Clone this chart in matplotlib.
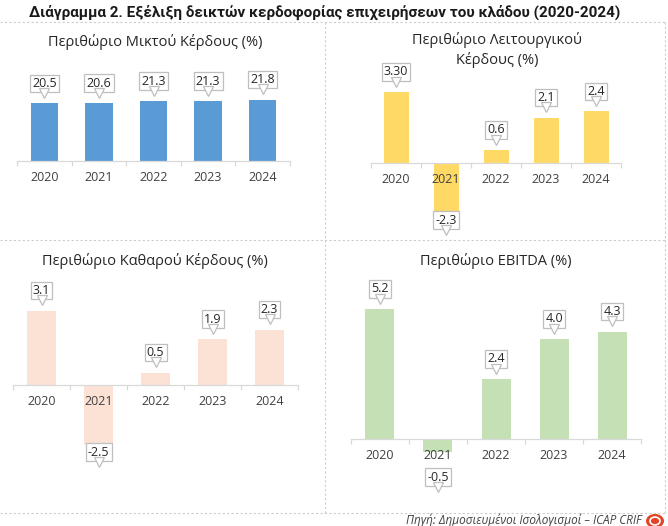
import matplotlib
matplotlib.use("Agg")
import matplotlib.pyplot as plt
import matplotlib.transforms as mtransforms
from matplotlib.patches import Circle
from matplotlib.lines import Line2D

plt.rcParams['font.family'] = ['Open Sans', 'DejaVu Sans']

years = ["2020", "2021", "2022", "2023", "2024"]

gross_margin = [20.5, 20.6, 21.3, 21.3, 21.8]
gross_labels = ["20.5", "20.6", "21.3", "21.3", "21.8"]

operating_margin = [3.30, -2.3, 0.6, 2.1, 2.4]
operating_labels = ["3.30", "-2.3", "0.6", "2.1", "2.4"]

net_margin = [3.1, -2.5, 0.5, 1.9, 2.3]
net_labels = ["3.1", "-2.5", "0.5", "1.9", "2.3"]

ebitda_margin = [5.2, -0.5, 2.4, 4.0, 4.3]
ebitda_labels = ["5.2", "-0.5", "2.4", "4.0", "4.3"]

W, H = 668, 526
fig = plt.figure(figsize=(W / 100, H / 100), dpi=100)
fig.patch.set_facecolor("white")


def fx(x):
    return x / W


def fy(y):
    return 1 - y / H


def shifted(ax, dy):
    return mtransforms.offset_copy(ax.transData, fig=fig, x=0, y=dy, units="points")


def panel(rect, values, labels, color, ylim, title, title_xy):
    left, right, top, bottom = rect
    ax = fig.add_axes([fx(left), fy(bottom), fx(right - left), (bottom - top) / H])
    x = list(range(len(values)))
    ax.bar(x, values, width=0.5, color=color, zorder=2)
    ax.set_xlim(-0.5, len(values) - 0.5)
    ax.set_ylim(*ylim)
    for s in ["top", "right", "left"]:
        ax.spines[s].set_visible(False)
    ax.spines["bottom"].set_position(("data", 0))
    ax.spines["bottom"].set_color("#D9D9D9")
    ax.spines["bottom"].set_linewidth(0.9)
    ax.set_yticks([])
    ax.set_xticks([i - 0.5 for i in range(len(values) + 1)])
    ax.set_xticklabels([])
    ax.tick_params(axis="x", length=3.5, color="#D9D9D9", width=0.9)
    ax.patch.set_alpha(0)

    # category labels drawn on top of the bars, like the original
    for i, yr in enumerate(years):
        ax.text(i, 0, yr, transform=shifted(ax, -12), ha="center", va="center",
                fontsize=9, color="#404040", zorder=7)

    span = ylim[1] - ylim[0]
    for i, (v, lab) in enumerate(zip(values, labels)):
        if v >= 0:
            anchor, off, tip = v, 14.5, 7.5
        elif -v < 0.15 * span:
            anchor, off, tip = 0, -27.5, -34.5
        else:
            anchor, off, tip = v, -5.5, -12.5
        ax.annotate(lab, (i, anchor), xytext=(0, off), textcoords="offset points",
                    ha="center", va="center", fontsize=9, color="#262626",
                    bbox=dict(boxstyle="square,pad=0.18", fc="white", ec="#BFBFBF", lw=0.9),
                    annotation_clip=False, zorder=5)
        ax.plot([i], [anchor], marker="v", ms=7, mfc="white", mec="#BFBFBF", mew=0.9,
                transform=shifted(ax, tip), clip_on=False, zorder=6)
    fig.text(fx(title_xy[0]), fy(title_xy[1]), title, ha="center", va="center",
             fontsize=10.5, color="#262626", linespacing=1.25)
    return ax


panel((17, 290, 60, 175), gross_margin, gross_labels, "#5B9BD5", (-5, 36),
      "Περιθώριο Μικτού Κέρδους (%)", (155, 42))
panel((371, 621, 80, 220), operating_margin, operating_labels, "#FFD966", (-2.65, 3.86),
      "Περιθώριο Λειτουργικού\nΚέρδους (%)", (497, 50))
panel((13, 298, 289, 447), net_margin, net_labels, "#FBE2D5", (-2.6, 4.0),
      "Περιθώριο Καθαρού Κέρδους (%)", (155, 261))
panel((351, 641, 289, 459), ebitda_margin, ebitda_labels, "#C5E0B4", (-0.8, 6.0),
      "Περιθώριο EBITDA (%)", (496, 261))

fig.text(fx(325), fy(12), "Διάγραμμα 2. Εξέλιξη δεικτών κερδοφορίας επιχειρήσεων του κλάδου (2020-2024)",
         ha="center", va="center", fontsize=11, fontweight="bold", family=["Roboto", "DejaVu Sans"],
         color="#1a1a1a")

# dotted frame lines
sep = dict(color="#CCCCCC", lw=0.8, ls=(0, (2, 2)), transform=fig.transFigure)
for y in (22, 240, 513):
    fig.add_artist(Line2D([fx(0), fx(665)], [fy(y), fy(y)], **sep))
for x in (325, 665):
    fig.add_artist(Line2D([fx(x), fx(x)], [fy(22), fy(513)], **sep))

fig.text(fx(642), fy(520), "Πηγή: Δημοσιευμένοι Ισολογισμοί – ICAP CRIF", ha="right", va="center",
         fontsize=8.5, style="italic", color="#404040")
fig.add_artist(Circle((fx(655), fy(521)), 9 / W, transform=fig.transFigure,
                      fc="#E2452A", ec="none"))
fig.add_artist(Circle((fx(655), fy(521)), 5 / W, transform=fig.transFigure,
                      fc="none", ec="white", lw=1.2))

fig.savefig("out.png", dpi=100)
